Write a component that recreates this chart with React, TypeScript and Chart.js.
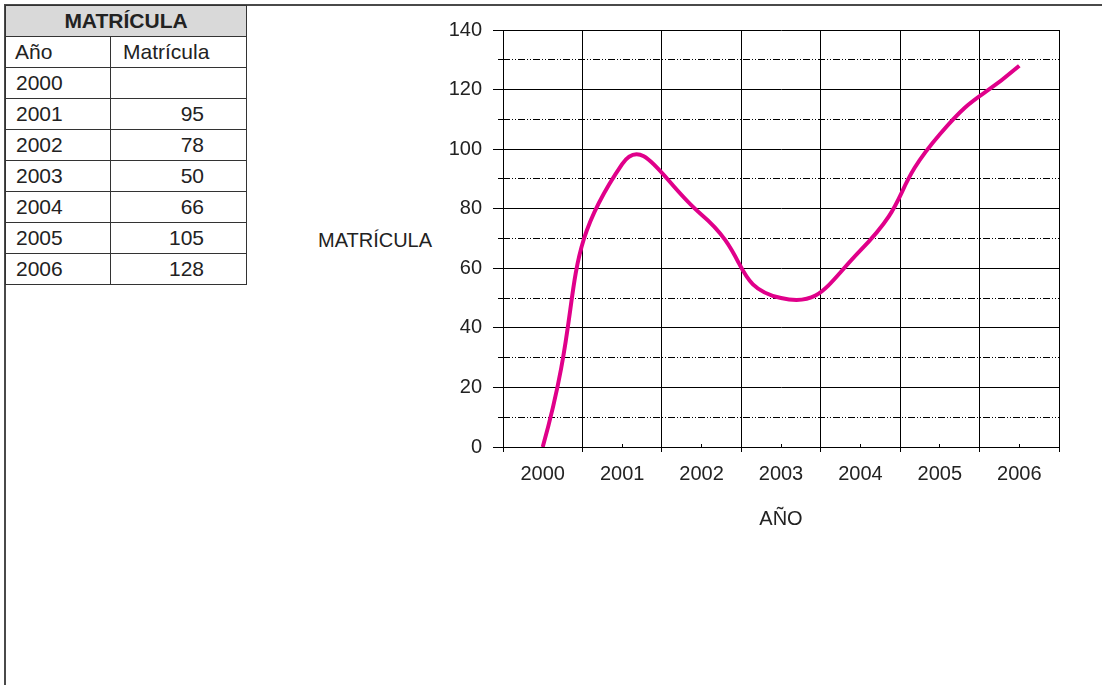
import React, { useEffect, useRef } from 'react';
import { Chart, registerables } from 'chart.js';

Chart.register(...registerables);

// ---- data ----
const years: string[] = ['2000', '2001', '2002', '2003', '2004', '2005', '2006'];
const tableValues: string[] = ['', '95', '78', '50', '66', '105', '128'];
const matricula: number[] = [0, 95, 78, 50, 66, 105, 128];
const yMin = 0;
const yMax = 140;
const yMajorStep = 20;
const yMinorStep = 10;
const tableTitle = 'MATRÍCULA';
const colHeaders: string[] = ['Año', 'Matrícula'];
const xTitle = 'AÑO';
const yTitle = 'MATRÍCULA';

const FONT = "'Liberation Sans', Arial, sans-serif";
const FS = 20;
const TEXT = '#222';
const LINE = '#E0008A';
const CLEAR = 'rgba(0,0,0,0)';

function isMajor(v: number) {
  return Math.abs(v % yMajorStep) < 1e-6;
}

export default function App() {
  const canvasRef = useRef<HTMLCanvasElement | null>(null);

  useEffect(() => {
    const el = canvasRef.current;
    if (!el) return;
    const chart = new Chart(el, {
      type: 'line',
      data: {
        labels: years,
        datasets: [
          {
            data: matricula,
            borderColor: LINE,
            backgroundColor: LINE,
            borderWidth: 4,
            tension: 0.55,
            pointRadius: 0,
            fill: false,
            xAxisID: 'x',
            yAxisID: 'y',
          },
        ],
      },
      options: {
        animation: false,
        responsive: false,
        layout: { padding: { top: 17, right: 41, bottom: 9, left: 0 } },
        plugins: {
          legend: { display: false },
          tooltip: { enabled: false },
        },
        scales: {
          x: {
            type: 'category',
            offset: true,
            weight: 1,
            grid: { offset: true, color: '#000', lineWidth: 1, tickLength: 5, tickColor: '#000' },
            border: { color: '#000', width: 1 },
            ticks: { color: TEXT, font: { family: FONT, size: FS }, padding: 10, maxRotation: 0, autoSkip: false },
            title: {
              display: true,
              text: xTitle,
              color: TEXT,
              font: { family: FONT, size: FS },
              padding: { top: 23, bottom: 0 },
            },
            afterFit: (s: any) => {
              s.height = 84;
            },
          },
          // small inward tick marks at the category centres
          x2: {
            type: 'category',
            labels: years,
            position: 'bottom',
            offset: true,
            weight: 0,
            grid: {
              offset: false,
              drawOnChartArea: false,
              drawTicks: true,
              tickLength: -3,
              tickColor: '#000',
              lineWidth: 1,
            },
            border: { display: false },
            ticks: { display: false, autoSkip: false },
            afterFit: (s: any) => {
              s.height = 0;
            },
          },
          y: {
            type: 'linear',
            position: 'left',
            weight: 1,
            min: yMin,
            max: yMax,
            ticks: {
              stepSize: yMinorStep,
              padding: 11,
              color: TEXT,
              autoSkip: false,
              font: { family: FONT, size: FS },
              callback: (v: any) => (isMajor(Number(v)) ? String(v) : ''),
            },
            grid: {
              color: (ctx: any) => (ctx.tick && isMajor(ctx.tick.value) ? '#000' : CLEAR),
              tickColor: (ctx: any) => (ctx.tick && isMajor(ctx.tick.value) ? '#000' : CLEAR),
              lineWidth: 1,
              tickLength: 10,
            },
            border: { color: '#000', width: 1 },
            afterFit: (s: any) => {
              s.width = 63;
            },
          },
          y2: {
            type: 'linear',
            position: 'left',
            weight: 0,
            min: yMin,
            max: yMax,
            ticks: { display: false, stepSize: yMinorStep },
            grid: {
              drawTicks: true,
              tickLength: 5,
              lineWidth: 1,
              color: (ctx: any) => (ctx.tick && !isMajor(ctx.tick.value) ? '#000' : CLEAR),
              tickColor: (ctx: any) => (ctx.tick && !isMajor(ctx.tick.value) ? '#000' : CLEAR),
            },
            border: { display: false, dash: [7, 2, 1, 2, 1, 2] },
            afterFit: (s: any) => {
              s.width = 0;
            },
          },
        },
      },
    } as any);
    return () => chart.destroy();
  }, []);

  const cell: React.CSSProperties = {
    border: '1px solid #333',
    height: 31,
    padding: 0,
    fontFamily: FONT,
    fontSize: 21,
    color: TEXT,
    boxSizing: 'border-box',
    lineHeight: '22px',
  };

  return (
    <div style={{ position: 'fixed', left: 0, top: 0, width: 1102, height: 685, overflow: 'hidden', background: '#fff' }}>
      {/* outer frame: top edge and left edge */}
      <div style={{ position: 'absolute', left: 4, top: 4, width: 1098, height: 2, background: '#4a4a4a' }} />
      <div style={{ position: 'absolute', left: 4, top: 4, width: 2, height: 681, background: '#4a4a4a' }} />

      <table
        style={{
          position: 'absolute',
          left: 5,
          top: 5,
          borderCollapse: 'collapse',
          width: 241,
          tableLayout: 'fixed',
          background: '#fff',
        }}
      >
        <colgroup>
          <col style={{ width: 105 }} />
          <col style={{ width: 136 }} />
        </colgroup>
        <tbody>
          <tr>
            <td colSpan={2} style={{ ...cell, background: '#d9d9d9', fontWeight: 'bold', textAlign: 'center' }}>
              {tableTitle}
            </td>
          </tr>
          <tr>
            <td style={{ ...cell, paddingLeft: 9 }}>{colHeaders[0]}</td>
            <td style={{ ...cell, paddingLeft: 12 }}>{colHeaders[1]}</td>
          </tr>
          {years.map((y, i) => (
            <tr key={y}>
              <td style={{ ...cell, paddingLeft: 10 }}>{y}</td>
              <td style={{ ...cell, textAlign: 'right', paddingRight: 42 }}>{tableValues[i]}</td>
            </tr>
          ))}
        </tbody>
      </table>

      <div
        style={{
          position: 'absolute',
          left: 318,
          top: 228,
          fontFamily: FONT,
          fontSize: FS,
          lineHeight: '24px',
          color: TEXT,
          whiteSpace: 'nowrap',
        }}
      >
        {yTitle}
      </div>

      <canvas
        ref={canvasRef}
        width={660}
        height={533}
        style={{ position: 'absolute', left: 440, top: 7, width: 660, height: 533 }}
      />
    </div>
  );
}
